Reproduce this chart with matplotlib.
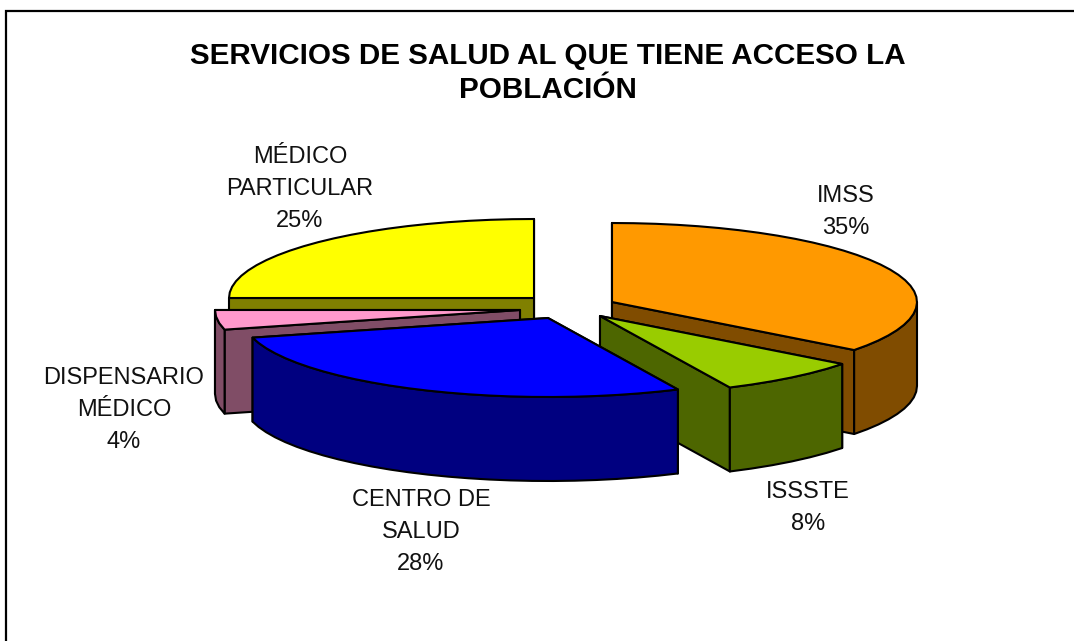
#!/usr/bin/env python3
"""Exploded 3D-style pie of health services access, drawn with plain polygons."""

import matplotlib
matplotlib.use("Agg")
import matplotlib.pyplot as plt
from matplotlib.patches import Polygon
import numpy as np

# --- Data ---
categories = ["IMSS", "ISSSTE", "CENTRO DE\nSALUD", "DISPENSARIO\nMÉDICO", "MÉDICO\nPARTICULAR"]
values = [35.4, 7.6, 28, 4, 25]
title = "SERVICIOS DE SALUD AL QUE TIENE ACCESO LA\nPOBLACIÓN"

# --- Style ---
top_colors = ["#FF9900", "#99CC00", "#0000FF", "#FF99CC", "#FFFF00"]
side_colors = ["#804C00", "#4D6600", "#000080", "#804D66", "#808000"]
apexes = [(612, 302), (600, 316), (548, 318), (520, 310), (534, 298)]
label_pos = [(846, 212), (808, 508), (421, 532), (124, 410), (300, 189)]
draw_order = [4, 3, 0, 1, 2]
rx, ry, depth = 305, 79, 84

plt.rcParams["font.family"] = ["Liberation Sans", "DejaVu Sans"]

fig = plt.figure(figsize=(10.74, 6.41), dpi=100)
ax = fig.add_axes([0, 0, 1, 1])
ax.set_xlim(0, 1074)
ax.set_ylim(641, 0)
ax.axis("off")

# only the left and top edge of the chart frame are in the picture
ax.plot([6, 6, 1074], [641, 11, 11], color="black", lw=1.6, solid_joinstyle="miter")


def rim(apex, a0, a1, step=4.0):
    """Points of the slice rim between two clockwise angles (degrees from 12 o'clock)."""
    n = max(2, int(abs(a1 - a0) / step) + 1)
    t = np.radians(np.linspace(a0, a1, n))
    return np.column_stack([apex[0] + rx * np.sin(t), apex[1] - ry * np.cos(t)])


def add_poly(pts, color):
    ax.add_patch(Polygon(pts, closed=True, facecolor=color, edgecolor="black",
                         lw=1.5, joinstyle="round"))


bounds = np.cumsum([0] + values) * 3.6
down = np.array([0, depth])

for i in draw_order:
    a0, a1 = bounds[i], bounds[i + 1]
    apex = np.array(apexes[i], dtype=float)

    # flat side walls, the one further back first
    corners = sorted([rim(apex, a, a + 1)[0] for a in (a0, a1)], key=lambda p: p[1])
    for c in corners:
        add_poly([apex, c, c + down, apex + down], side_colors[i])

    # curved outer wall, only the part that faces the viewer
    lo, hi = max(a0, 90), min(a1, 270)
    if hi > lo:
        arc = rim(apex, lo, hi)
        add_poly(np.vstack([arc, arc[::-1] + down]), side_colors[i])

    # top face
    add_poly(np.vstack([apex, rim(apex, a0, a1)]), top_colors[i])

# --- Labels ---
for name, val, (x, y) in zip(categories, values, label_pos):
    ax.text(x, y, f"{name}\n{round(val)}%", ha="center", va="center", fontsize=17,
            linespacing=1.56, color="#111111")

ax.text(548, 73, title, ha="center", va="center", fontsize=21.3, fontweight="bold",
        linespacing=1.28, color="black")

fig.savefig("out.png", dpi=100)
